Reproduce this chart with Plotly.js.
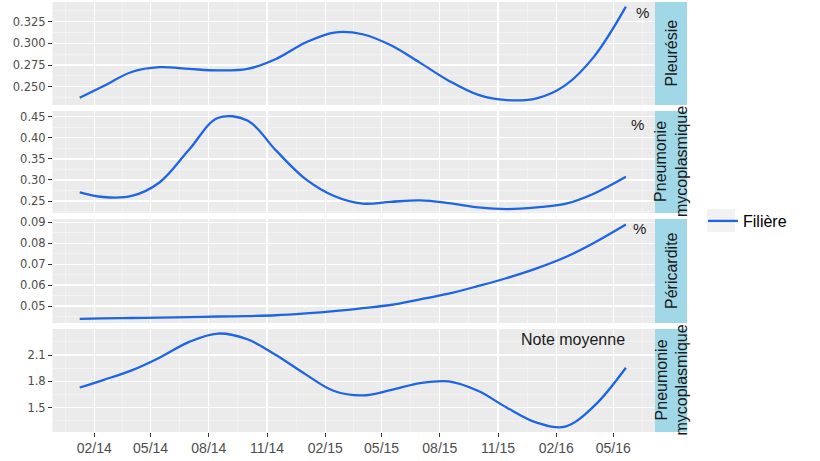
<!DOCTYPE html>
<html>
<head>
<meta charset="utf-8">
<script src="https://cdn.plot.ly/plotly-3.0.1.min.js"></script>
<style>
  html, body { margin: 0; padding: 0; background: #ffffff; }
  #chart { width: 820px; height: 461px; }
</style>
</head>
<body>
<div id="chart"></div>
<script>
// dates, shared by the four facets
const mois = ['2014-01-09', '2014-02-15', '2014-04-01', '2014-05-15', '2014-07-01',
              '2014-08-15', '2014-10-01', '2014-11-15', '2015-01-01', '2015-02-15',
              '2015-04-01', '2015-05-15', '2015-07-01', '2015-08-15', '2015-10-01',
              '2015-11-15', '2016-01-01', '2016-02-15', '2016-04-01', '2016-05-21'];

const pleuresie = [0.2373, 0.2505, 0.2670, 0.2725, 0.2705, 0.2688, 0.2705, 0.2820, 0.3010, 0.3125,
                   0.3105, 0.2980, 0.2775, 0.2570, 0.2405, 0.2345, 0.2365, 0.2515, 0.2850, 0.3423];

const pneumonie = [0.2706, 0.2595, 0.2620, 0.2940, 0.3720, 0.4470, 0.4410, 0.3700, 0.3020, 0.2620,
                   0.2440, 0.2480, 0.2515, 0.2450, 0.2350, 0.2310, 0.2350, 0.2430, 0.2680, 0.3075];

const pericardite = [0.0439, 0.0441, 0.0443, 0.0445, 0.0447, 0.0450, 0.0452, 0.0456, 0.0465, 0.0476,
                     0.0490, 0.0505, 0.0532, 0.0559, 0.0596, 0.0634, 0.0680, 0.0733, 0.0803, 0.0890];

const noteMoyenne = [1.730, 1.815, 1.925, 2.070, 2.250, 2.345, 2.280, 2.100, 1.880, 1.690,
                     1.640, 1.700, 1.780, 1.800, 1.690, 1.500, 1.330, 1.285, 1.520, 1.955];

const facettes = ['Pleurésie', 'Pneumonie<br>mycoplasmique', 'Péricardite', 'Pneumonie<br>mycoplasmique'];
const unites = ['%', '%', '%', 'Note moyenne'];

const xTickVals = ['2014-02-01', '2014-05-01', '2014-08-01', '2014-11-01', '2015-02-01',
                   '2015-05-01', '2015-08-01', '2015-11-01', '2016-02-01', '2016-05-01'];
const xTickText = ['02/14', '05/14', '08/14', '11/14', '02/15', '05/15', '08/15', '11/15', '02/16', '05/16'];
const xMinorVals = ['2013-12-17', '2014-03-18', '2014-06-16', '2014-09-16', '2014-12-17', '2015-03-18',
                    '2015-06-16', '2015-09-16', '2015-12-17', '2016-03-17', '2016-06-16'];

const W = 820, H = 461;
const px = v => v / W;
const py = v => 1 - v / H;

const bleu = '#1D65E4';
const series = [pleuresie, pneumonie, pericardite, noteMoyenne];
const yNames = ['y', 'y2', 'y3', 'y4'];

var data = series.map((s, i) => ({
    x: mois,
    y: s,
    yaxis: yNames[i],
    xaxis: 'x',
    type: 'scatter',
    mode: 'lines',
    name: 'Filière',
    showlegend: i === 0,
    line: { color: bleu, width: 2.3, shape: 'spline', smoothing: 1 },
    hoverinfo: 'skip'
}));

// panel tops / bottoms in pixels
const panels = [[2, 105], [111, 213], [219, 323], [329, 432]];
const yRanges = [[0.2289, 0.3477], [0.2216, 0.4635], [0.0419, 0.0916], [1.223, 2.397]];
const yDtick = [0.025, 0.05, 0.01, 0.3];
const yFormat = ['.3f', '.2f', '.2f', '.1f'];

var layout = {
    width: W,
    height: H,
    margin: { l: 0, r: 0, t: 0, b: 0 },
    paper_bgcolor: '#ffffff',
    plot_bgcolor: '#EBEBEB',
    font: { family: 'Liberation Sans, Arial, sans-serif', color: '#000000' },
    showlegend: true,
    legend: {
        x: px(703), y: py(221), xanchor: 'left', yanchor: 'middle',
        font: { size: 16, color: '#000000' },
        bgcolor: 'rgba(0,0,0,0)',
        itemwidth: 30
    },
    xaxis: {
        type: 'date',
        domain: [px(52.5), px(655)],
        range: ['2013-11-27', '2016-07-06'],
        anchor: 'y4',
        tickmode: 'array',
        tickvals: xTickVals,
        ticktext: xTickText,
        ticks: 'outside',
        ticklen: 3.5,
        tickwidth: 1,
        tickcolor: '#333333',
        tickfont: { size: 14, color: '#4D4D4D', family: 'Liberation Sans, Arial, sans-serif' },
        showgrid: true,
        gridcolor: '#FFFFFF',
        gridwidth: 1.3,
        minor: { tickmode: 'array', tickvals: xMinorVals, showgrid: true, gridcolor: '#F6F6F6', gridwidth: 0.6, ticks: '' },
        showline: false,
        zeroline: false,
        fixedrange: true
    },
    shapes: [],
    annotations: []
};

panels.forEach((p, i) => {
    var key = i === 0 ? 'yaxis' : 'yaxis' + (i + 1);
    layout[key] = {
        domain: [py(p[1]), py(p[0])],
        range: yRanges[i],
        anchor: 'x',
        tick0: 0,
        dtick: yDtick[i],
        tickformat: yFormat[i],
        ticks: 'outside',
        ticklen: 3.5,
        tickwidth: 1,
        tickcolor: '#333333',
        tickfont: { size: 11.5, color: '#4D4D4D', family: 'DejaVu Sans, Verdana, sans-serif' },
        showgrid: true,
        gridcolor: '#FFFFFF',
        gridwidth: 1.3,
        minor: { dtick: yDtick[i] / 2, tick0: 0, showgrid: true, gridcolor: '#F6F6F6', gridwidth: 0.6, ticks: '' },
        showline: false,
        zeroline: false,
        fixedrange: true
    };

    // facet strip on the right
    layout.shapes.push({
        type: 'rect', xref: 'paper', yref: 'paper',
        x0: px(655), x1: px(687), y0: py(p[1]), y1: py(p[0]),
        fillcolor: '#A0D8E8', line: { width: 0 }, layer: 'below'
    });
    layout.annotations.push({
        xref: 'paper', yref: 'paper',
        x: px(671), y: py((p[0] + p[1]) / 2),
        text: facettes[i], textangle: -90, showarrow: false,
        font: { size: 16, color: '#1A1A1A' },
        xanchor: 'center', yanchor: 'middle'
    });
});

// unit labels in the panel corners
const unitePos = [[642, 13], [637, 124], [639, 228], [573, 339]];
unites.forEach((u, i) => {
    layout.annotations.push({
        xref: 'paper', yref: 'paper',
        x: px(unitePos[i][0]), y: py(unitePos[i][1]),
        text: u, showarrow: false,
        font: { size: i === 3 ? 16 : 15, color: '#1A1A1A' },
        xanchor: 'center', yanchor: 'middle'
    });
});

// grey key box behind the legend line
layout.shapes.push({
    type: 'rect', xref: 'paper', yref: 'paper',
    x0: px(707), x1: px(735), y0: py(232), y1: py(209),
    fillcolor: '#F2F2F2', line: { width: 0 }, layer: 'below'
});

Plotly.newPlot('chart', data, layout, { displayModeBar: false, staticPlot: true });
</script>
</body>
</html>
